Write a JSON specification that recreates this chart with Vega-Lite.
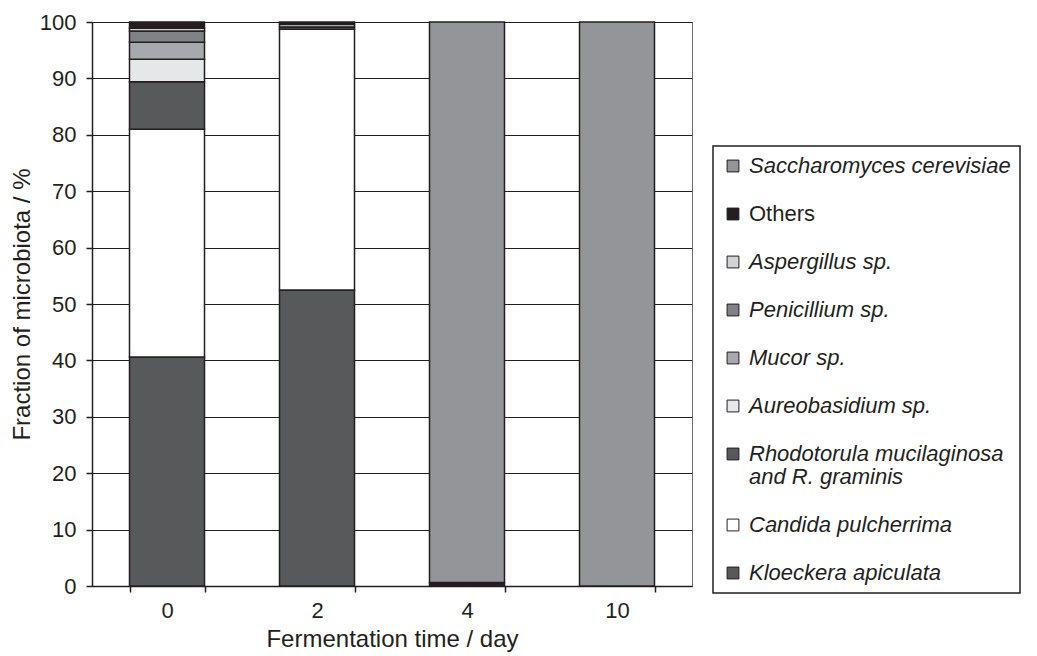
{
  "$schema": "https://vega.github.io/schema/vega-lite/v6.json",
  "width": 600,
  "height": 564,
  "autosize": {"type": "none"},
  "padding": {"left": 92, "top": 22, "right": 345, "bottom": 70},
  "background": "white",
  "config": {
    "font": "Liberation Sans",
    "view": {"stroke": "#6d6e71", "strokeWidth": 1},
    "axis": {"labelColor": "#231f20", "titleColor": "#231f20", "domainColor": "#231f20", "tickColor": "#231f20", "labelFontWeight": "normal", "titleFontWeight": "normal"}
  },
  "data": {"values": [
    {"day": "0", "species": "Kloeckera apiculata", "pct": 40.6},
    {"day": "0", "species": "Candida pulcherrima", "pct": 40.4},
    {"day": "0", "species": "Rhodotorula mucilaginosa and R. graminis", "pct": 8.4},
    {"day": "0", "species": "Aureobasidium sp.", "pct": 4.0},
    {"day": "0", "species": "Mucor sp.", "pct": 3.0},
    {"day": "0", "species": "Penicillium sp.", "pct": 2.0},
    {"day": "0", "species": "Aspergillus sp.", "pct": 0.5},
    {"day": "0", "species": "Others", "pct": 1.1},
    {"day": "2", "species": "Kloeckera apiculata", "pct": 52.5},
    {"day": "2", "species": "Candida pulcherrima", "pct": 46.2},
    {"day": "2", "species": "Rhodotorula mucilaginosa and R. graminis", "pct": 0.4},
    {"day": "2", "species": "Mucor sp.", "pct": 0.5},
    {"day": "2", "species": "Others", "pct": 0.4},
    {"day": "4", "species": "Others", "pct": 0.6},
    {"day": "4", "species": "Saccharomyces cerevisiae", "pct": 99.4},
    {"day": "10", "species": "Saccharomyces cerevisiae", "pct": 100}
  ]},
  "transform": [
    {"calculate": "indexof(['Kloeckera apiculata','Candida pulcherrima','Rhodotorula mucilaginosa and R. graminis','Aureobasidium sp.','Mucor sp.','Penicillium sp.','Aspergillus sp.','Others','Saccharomyces cerevisiae'], datum.species)", "as": "stackorder"}
  ],
  "mark": {"type": "bar", "stroke": "#231f20", "strokeWidth": 1.5},
  "encoding": {
    "x": {
      "field": "day", "type": "nominal", "sort": ["0", "2", "4", "10"],
      "scale": {"paddingInner": 0.5, "paddingOuter": 0.25},
      "axis": {"title": "Fermentation time / day", "labelAngle": 0, "labelFontSize": 22, "titleFontSize": 24, "tickBand": "extent", "tickSize": 6, "labelPadding": 8, "titlePadding": 6, "domainWidth": 1.5, "tickWidth": 1.5}
    },
    "y": {
      "field": "pct", "type": "quantitative", "stack": "zero",
      "scale": {"domain": [0, 100], "nice": false},
      "axis": {"title": "Fraction of microbiota / %", "values": [0,10,20,30,40,50,60,70,80,90,100], "labelFontSize": 22, "titleFontSize": 24, "tickSize": 6, "labelPadding": 10, "titlePadding": 5, "grid": true, "gridColor": "#231f20", "gridOpacity": 1, "gridWidth": 1, "domainWidth": 1.5, "tickWidth": 1.5}
    },
    "order": {"field": "stackorder", "type": "quantitative"},
    "color": {
      "field": "species", "type": "nominal",
      "scale": {
        "domain": ["Saccharomyces cerevisiae", "Others", "Aspergillus sp.", "Penicillium sp.", "Mucor sp.", "Aureobasidium sp.", "Rhodotorula mucilaginosa and R. graminis", "Candida pulcherrima", "Kloeckera apiculata"],
        "range": ["#939598", "#231f20", "#d1d3d4", "#808285", "#a7a9ac", "#e6e7e8", "#58595b", "#ffffff", "#58595b"]
      },
      "legend": {
        "title": null,
        "orient": "none",
        "legendX": 621,
        "legendY": 124,
        "strokeColor": "#231f20",
        "padding": 9,
        "symbolType": "square",
        "symbolSize": 140,
        "symbolStrokeColor": "#231f20",
        "symbolStrokeWidth": 1,
        "symbolOpacity": 1,
        "labelFontSize": 22,
        "labelColor": "#231f20",
        "labelOffset": 5,
        "labelLimit": 400,
        "rowPadding": 26,
        "clipHeight": 22,
        "labelExpr": "datum.label == 'Rhodotorula mucilaginosa and R. graminis' ? ['Rhodotorula mucilaginosa', 'and R. graminis'] : (datum.label == 'Saccharomyces cerevisiae' ? datum.label + '\u00a0\u00a0\u00a0\u00a0\u00a0' : datum.label)",
        "encode": {
          "legend": {"update": {"strokeWidth": {"value": 1.5}}},
          "labels": {"update": {"fontStyle": {"signal": "datum.value == 'Others' ? 'normal' : 'italic'"}, "lineHeight": {"value": 23}}}
        }
      }
    }
  }
}
